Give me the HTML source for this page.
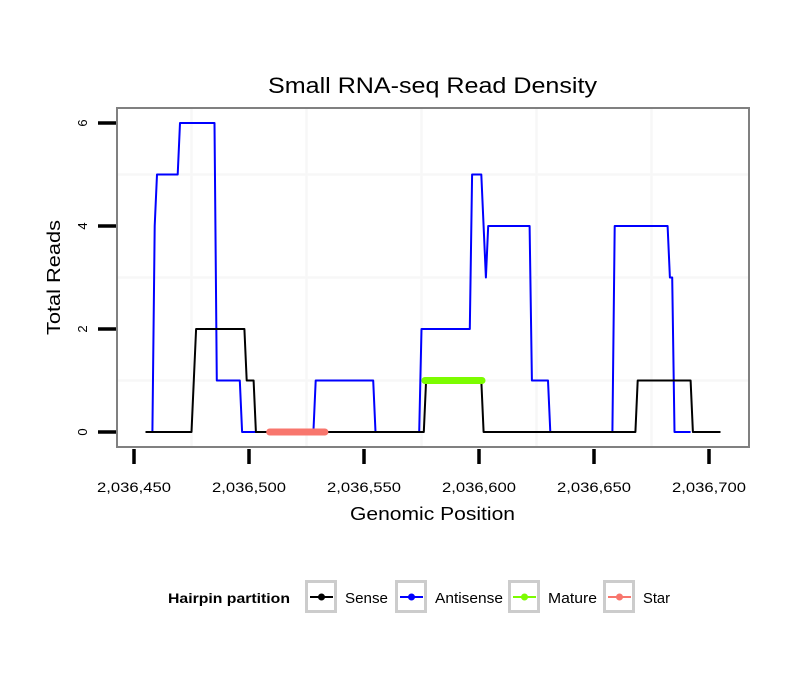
<!DOCTYPE html>
<html><head><meta charset="utf-8"><style>
body{margin:0;background:#fff;}
svg text{font-family:"Liberation Sans",sans-serif;}
</style></head><body>
<svg id="chart" width="810" height="690" viewBox="0 0 810 690" xmlns="http://www.w3.org/2000/svg">
<rect width="810" height="690" fill="#fff"/>
<g id="grid"></g>
<g id="series"></g>
<rect x="117" y="108" width="632" height="339" fill="none" stroke="#808080" stroke-width="2"/>
<g id="axes"></g>
<text x="268" y="93" font-size="22" textLength="329" lengthAdjust="spacingAndGlyphs">Small RNA-seq Read Density</text>
<text x="350" y="520" font-size="18" textLength="165" lengthAdjust="spacingAndGlyphs">Genomic Position</text>
<text transform="translate(60,335) rotate(-90)" font-size="18" textLength="115" lengthAdjust="spacingAndGlyphs">Total Reads</text>
<g>
<text x="168" y="603" font-size="14" font-weight="bold" textLength="122" lengthAdjust="spacingAndGlyphs">Hairpin partition</text>
<g id="legend-keys"></g>
</g>
</svg>
<script>
const xTicks=[2036450,2036500,2036550,2036600,2036650,2036700];
const xTickLabels=["2,036,450","2,036,500","2,036,550","2,036,600","2,036,650","2,036,700"];
const yTicks=[0,2,4,6];
const xMinorGrid=[2036475,2036525,2036575,2036625,2036675];
const yMinorGrid=[1,3,5];
const senseX=[2036455,2036475,2036477,2036498,2036499,2036502,2036503,2036576,2036577,2036601,2036602,2036668,2036669,2036692,2036693,2036705];
const senseY=[0,0,2,2,1,1,0,0,1,1,0,0,1,1,0,0];
const antiX=[2036458,2036459,2036460,2036469,2036470,2036485,2036486,2036496,2036497,2036528,2036529,2036554,2036555,2036574,2036575,2036596,2036597,2036601,2036603,2036604,2036622,2036623,2036630,2036631,2036658,2036659,2036682,2036683,2036684,2036685,2036692];
const antiY=[0,4,5,5,6,6,1,1,0,0,1,1,0,0,2,2,5,5,3,4,4,1,1,0,0,4,4,3,3,0,0];
const matureX=[2036576.5,2036601.3];
const matureY=[1,1];
const starX=[2036509,2036533];
const starY=[0,0];
const legendLabels=["Sense","Antisense","Mature","Star"];

const NS="http://www.w3.org/2000/svg";
const sx=v=>134+(v-2036450)*2.3;
const sy=v=>432-v*51.5;
function mk(tag,attrs,parent){const e=document.createElementNS(NS,tag);for(const k in attrs)e.setAttribute(k,attrs[k]);parent.appendChild(e);return e;}
const grid=document.getElementById('grid');
xMinorGrid.forEach(v=>{const l=mk('line',{x1:sx(v),x2:sx(v),y1:108,y2:447,stroke:'#f7f7f7','stroke-width':2.5},grid);

});
yMinorGrid.forEach(v=>{const l=mk('line',{x1:117,x2:749,y1:sy(v),y2:sy(v),stroke:'#f7f7f7','stroke-width':2.5},grid);

});
const axes=document.getElementById('axes');
xTicks.forEach((v,i)=>{const t=mk('line',{x1:sx(v),x2:sx(v),y1:449,y2:464,stroke:'#000','stroke-width':3.5},axes);


const tx=mk('text',{x:sx(v)-37,y:492,'font-size':13.5,textLength:74,lengthAdjust:'spacingAndGlyphs'},axes);tx.textContent=xTickLabels[i];

});
yTicks.forEach(v=>{const t=mk('line',{x1:98,x2:116,y1:sy(v),y2:sy(v),stroke:'#000','stroke-width':3.5},axes);


const tx=mk('text',{transform:`translate(87,${sy(v)}) rotate(-90)`,'font-size':13,'text-anchor':'middle'},axes);tx.textContent=v;

});
const ser=document.getElementById('series');
function line(xs,ys,color,w,name){const p=mk('polyline',{points:xs.map((x,i)=>sx(x)+','+sy(ys[i])).join(' '),fill:'none',stroke:color,'stroke-width':w,'stroke-linejoin':'round','stroke-linecap':w>3?'round':'butt'},ser);

}
line(antiX,antiY,'#0000ff',2,'antisense-line');
line(senseX,senseY,'#000000',2,'sense-line');
line(starX,starY,'#f8766d',7,'star-segment');
line(matureX,matureY,'#7cfc00',7,'mature-segment');
const lk=document.getElementById('legend-keys');
const boxX=[305,395,508,603];
const textW=[43,68,49,27];
const colors=['#000','#0000ff','#7cfc00','#f8766d'];
legendLabels.forEach((lab,i)=>{const g=mk('g',{},lk);


mk('rect',{x:boxX[i]+1.5,y:581.5,width:29,height:30,fill:'#fff',stroke:'#cccccc','stroke-width':3},g);
mk('line',{x1:boxX[i]+5,x2:boxX[i]+28,y1:597,y2:597,stroke:colors[i],'stroke-width':2},g);
mk('circle',{cx:boxX[i]+16.5,cy:597,r:3.5,fill:colors[i]},g);
const t=mk('text',{x:boxX[i]+40,y:603,'font-size':15,textLength:textW[i],lengthAdjust:'spacingAndGlyphs'},g);t.textContent=lab;});
</script>
</body></html>
